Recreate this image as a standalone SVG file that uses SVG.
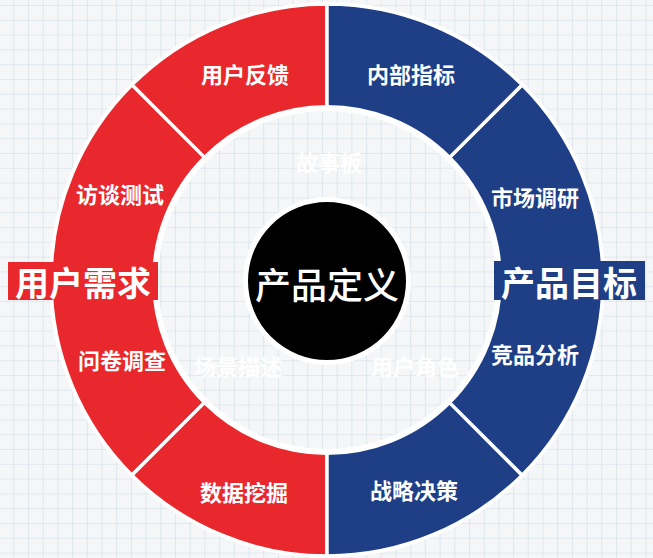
<svg xmlns="http://www.w3.org/2000/svg" width="653" height="558" viewBox="0 0 653 558">
  <defs>
    <pattern id="grid" x="13.3" y="5" width="14.7" height="14.8" patternUnits="userSpaceOnUse">
      <path d="M0 0 V14.8 M0 0 H14.7" fill="none" stroke="#cfdee7" stroke-width="1.2"/>
    </pattern>
    <style>
      .red { fill: #e8282d; stroke: #ffffff; stroke-width: 3.5; stroke-linejoin: miter; }
      .blue { fill: #1e3f86; stroke: #ffffff; stroke-width: 3.5; stroke-linejoin: miter; }
      .seg { font-family: "Noto Sans CJK SC", "Noto Sans", sans-serif; font-size: 22px; font-weight: 700; fill: #ffffff; text-anchor: middle; }
      .faint { font-family: "Noto Sans CJK SC", "Noto Sans", sans-serif; font-size: 22px; font-weight: 700; fill: #ffffff; text-anchor: middle; }
      .big { font-family: "Noto Sans CJK SC", "Noto Sans", sans-serif; font-size: 34px; font-weight: 700; fill: #ffffff; text-anchor: middle; }
      .edge { fill: none; stroke: #ffffff; }
    </style>
  </defs>
  <rect x="0" y="0" width="653" height="558" fill="#f4f6f7"/>
  <rect x="0" y="0" width="653" height="558" fill="url(#grid)"/>

  <g id="ring">
    <g id="seg-yonghufankui">
      <path class="red" d="M131.84 84.84 A276 276 0 0 1 327 4 L327 108 A172 172 0 0 0 205.38 158.38 Z"/>
      <text class="seg" x="245" y="83">用户反馈</text>
    </g>
    <g id="seg-fangtanceshi">
      <path class="red" d="M51 280 A276 276 0 0 1 131.84 84.84 L205.38 158.38 A172 172 0 0 0 155 280 Z"/>
      <text class="seg" x="120" y="203">访谈测试</text>
    </g>
    <g id="seg-wenjuandiaocha">
      <path class="red" d="M131.84 475.16 A276 276 0 0 1 51 280 L155 280 A172 172 0 0 0 205.38 401.62 Z"/>
      <text class="seg" x="122" y="369">问卷调查</text>
    </g>
    <g id="seg-shujuwajue">
      <path class="red" d="M327 556 A276 276 0 0 1 131.84 475.16 L205.38 401.62 A172 172 0 0 0 327 452 Z"/>
      <text class="seg" x="244" y="501">数据挖掘</text>
    </g>
    <g id="seg-zhanluejuece">
      <path class="blue" d="M522.16 475.16 A276 276 0 0 1 327 556 L327 452 A172 172 0 0 0 448.62 401.62 Z"/>
      <text class="seg" x="414" y="499">战略决策</text>
    </g>
    <g id="seg-jingpinfenxi">
      <path class="blue" d="M603 280 A276 276 0 0 1 522.16 475.16 L448.62 401.62 A172 172 0 0 0 499 280 Z"/>
      <text class="seg" x="535" y="363">竞品分析</text>
    </g>
    <g id="seg-shichangdiaoyan">
      <path class="blue" d="M522.16 84.84 A276 276 0 0 1 603 280 L499 280 A172 172 0 0 0 448.62 158.38 Z"/>
      <text class="seg" x="535" y="206">市场调研</text>
    </g>
    <g id="seg-neibuzhibiao">
      <path class="blue" d="M327 4 A276 276 0 0 1 522.16 84.84 L448.62 158.38 A172 172 0 0 0 327 108 Z"/>
      <text class="seg" x="411" y="83">内部指标</text>
    </g>
    <circle class="edge" cx="327" cy="280" r="172" stroke-width="6"/>
    <circle class="edge" cx="327" cy="280" r="276.5" stroke-width="3"/>
  </g>

  <g id="inner-labels">
    <text class="faint" x="329" y="171">故事板</text>
    <text class="faint" x="238" y="375">场景描述</text>
    <text class="faint" x="415" y="375">用户角色</text>
  </g>

  <g id="center">
    <circle cx="327" cy="281" r="81.5" fill="#000000" stroke="#ffffff" stroke-width="5"/>
    <text class="big" x="327" y="299" style="font-size:36px;font-weight:500">产品定义</text>
  </g>

  <g id="label-yonghuxuqiu">
    <rect x="8" y="262" width="150" height="38" fill="#e8282d"/>
    <text class="big" x="83" y="296">用户需求</text>
  </g>

  <g id="label-chanpinmubiao">
    <rect x="494" y="261" width="151" height="39" fill="#1e3f86"/>
    <text class="big" x="569" y="296">产品目标</text>
  </g>
</svg>
